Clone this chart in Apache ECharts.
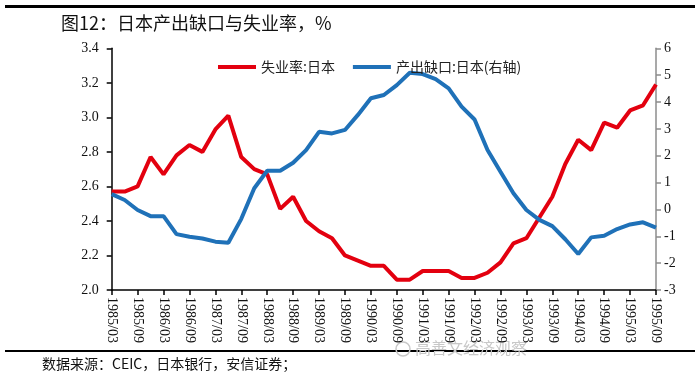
<!DOCTYPE html>
<html>
<head>
<meta charset="utf-8">
<script src="https://cdn.jsdelivr.net/npm/echarts@6/dist/echarts.min.js"></script>
<style>
html,body{margin:0;padding:0;background:#fff;}
#c{width:700px;height:381px;}
</style>
</head>
<body>
<div id="c"></div>
<script>
var categories = ['1985/03','1985/06','1985/09','1985/12','1986/03','1986/06','1986/09','1986/12',
'1987/03','1987/06','1987/09','1987/12','1988/03','1988/06','1988/09','1988/12',
'1989/03','1989/06','1989/09','1989/12','1990/03','1990/06','1990/09','1990/12',
'1991/03','1991/06','1991/09','1991/12','1992/03','1992/06','1992/09','1992/12',
'1993/03','1993/06','1993/09','1993/12','1994/03','1994/06','1994/09','1994/12',
'1995/03','1995/06','1995/09'];
var unemployment = [2.57,2.57,2.60,2.77,2.67,2.78,2.84,2.80,2.93,3.01,2.77,2.70,2.67,2.47,2.54,2.40,
2.34,2.30,2.20,2.17,2.14,2.14,2.06,2.06,2.11,2.11,2.11,2.07,2.07,2.10,2.16,2.27,
2.30,2.42,2.54,2.73,2.87,2.81,2.97,2.94,3.04,3.07,3.19];
var outputGap = [0.57,0.35,-0.02,-0.25,-0.25,-0.92,-1.02,-1.08,-1.20,-1.24,-0.35,0.79,1.44,1.44,1.74,2.21,
2.89,2.83,2.96,3.52,4.14,4.26,4.63,5.09,5.04,4.85,4.51,3.83,3.35,2.21,1.40,0.60,
-0.02,-0.39,-0.62,-1.11,-1.66,-1.04,-0.98,-0.73,-0.56,-0.48,-0.68];
var seriesNames = ['失业率:日本','产出缺口:日本(右轴)'];
var titleText = '图12：日本产出缺口与失业率，%';
var sourceText = '数据来源：CEIC，日本银行，安信证券；';
var watermarkText = '高善文经济观察';

var serif = '"Liberation Serif","DejaVu Serif",serif';
var cjk = '"Noto Sans CJK SC","Noto Sans",sans-serif';

var chart = echarts.init(document.getElementById('c'), null, {renderer:'canvas'});
chart.setOption({
  animation:false,
  backgroundColor:'#fff',
  title:{text:titleText,left:56,top:9,textStyle:{fontFamily:cjk,fontSize:18,fontWeight:'normal',color:'#111'}},
  legend:{
    data:seriesNames,left:213,top:55,itemWidth:38,itemHeight:4,itemGap:18,icon:'rect',
    textStyle:{fontFamily:cjk,fontSize:14,color:'#222'}
  },
  grid:{left:111.7,right:44,top:48.3,bottom:91,containLabel:false},
  xAxis:{
    type:'category',data:categories,boundaryGap:false,
    axisLine:{onZero:false,lineStyle:{color:'#000',width:1.5}},
    axisTick:{show:true,interval:1,length:5,lineStyle:{color:'#000',width:1.5}},
    axisLabel:{interval:1,rotate:-90,margin:7,fontFamily:serif,fontSize:14,color:'#111'},
    splitLine:{show:false}
  },
  yAxis:[{
    type:'value',min:2.0,max:3.4,interval:0.2,position:'left',
    axisLine:{show:true,lineStyle:{color:'#000',width:1.5}},
    axisTick:{show:true,length:5,lineStyle:{color:'#000',width:1.5}},
    axisLabel:{margin:13,fontFamily:serif,fontSize:14,color:'#111',formatter:function(v){return v.toFixed(1);}},
    splitLine:{show:false}
  },{
    type:'value',min:-3,max:6,interval:1,position:'right',
    axisLine:{show:true,lineStyle:{color:'#8c8c8c',width:1.5}},
    axisTick:{show:true,length:5,lineStyle:{color:'#8c8c8c',width:1.5}},
    axisLabel:{margin:8,fontFamily:serif,fontSize:14,color:'#111'},
    splitLine:{show:false}
  }],
  series:[{
    name:seriesNames[0],type:'line',yAxisIndex:0,data:unemployment,
    showSymbol:false,symbol:'none',lineStyle:{color:'#e3000f',width:4},itemStyle:{color:'#e3000f'}
  },{
    name:seriesNames[1],type:'line',yAxisIndex:1,data:outputGap,
    showSymbol:false,symbol:'none',lineStyle:{color:'#1f71b8',width:4},itemStyle:{color:'#1f71b8'}
  }],
  graphic:[
    {type:'rect',shape:{x:5,y:5,width:690,height:3},style:{fill:'#000'}},
    {type:'rect',shape:{x:5,y:350,width:690,height:2},style:{fill:'#000'}},
    {type:'text',left:415,top:340,style:{text:watermarkText,fill:'#c8c8c8',font:'16px "Noto Sans CJK SC",sans-serif'}},
    {type:'circle',shape:{cx:403,cy:349,r:7},style:{fill:'none',stroke:'#c8c8c8',lineWidth:1.5}},
    {type:'text',left:42,top:357,style:{text:sourceText,fill:'#111',font:'14px "Noto Sans CJK SC",sans-serif'}}
  ]
});
</script>
</body>
</html>
